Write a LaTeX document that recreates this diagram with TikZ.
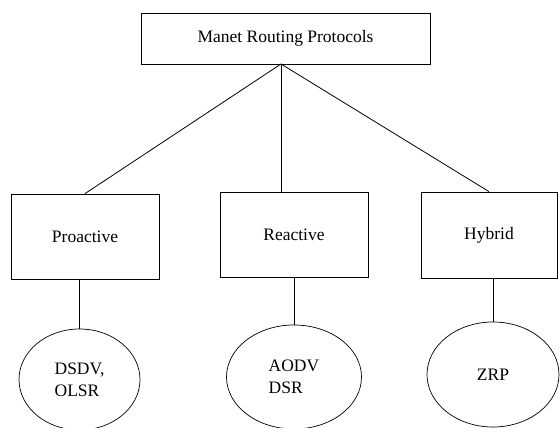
\documentclass[tikz,border=0pt]{standalone}
\usepackage{fontspec}
\setmainfont{Liberation Serif}
\usetikzlibrary{shapes.geometric}
\begin{document}
\begin{tikzpicture}[x=1pt,y=-1pt]
\tikzset{
  box/.style={draw, line width=0.8pt, rectangle, inner sep=0pt, font=\fontsize{17.5}{21}\selectfont},
  oval/.style={draw, ellipse, line width=0.7pt, inner sep=0pt, align=left, font=\fontsize{17.5}{22}\selectfont},
  conn/.style={line width=0.8pt}
}
\useasboundingbox (0,0) rectangle (560,428);
\node[box, minimum width=289pt, minimum height=51pt] (top) at (285.5,38.5) {Manet Routing Protocols};
\node[box, minimum width=148pt, minimum height=85pt] (pro) at (85,236.5) {Proactive};
\node[box, minimum width=148pt, minimum height=85pt] (rea) at (294,234.5) {Reactive};
\node[box, minimum width=136pt, minimum height=86pt] (hyb) at (489,235) {Hybrid};
\node[oval, minimum width=121pt, minimum height=101pt] (dsdv) at (79.5,379.5) {DSDV,\\OLSR};
\node[oval, minimum width=135pt, minimum height=104pt] (aodv) at (294,377) {AODV\\DSR};
\node[oval, minimum width=132pt, minimum height=105pt] (zrp) at (493,374.5) {ZRP};
\coordinate (apex) at (281,64);
\draw[conn] (apex) -- (pro.north);
\draw[conn] (apex) -- (apex |- rea.north);
\draw[conn] (apex) -- (hyb.north);
\draw[conn] (pro.south -| dsdv.north) -- (dsdv.north);
\draw[conn] (rea.south) -- (aodv.north);
\draw[conn] (hyb.south -| zrp.north) -- (zrp.north);
\end{tikzpicture}
\end{document}
